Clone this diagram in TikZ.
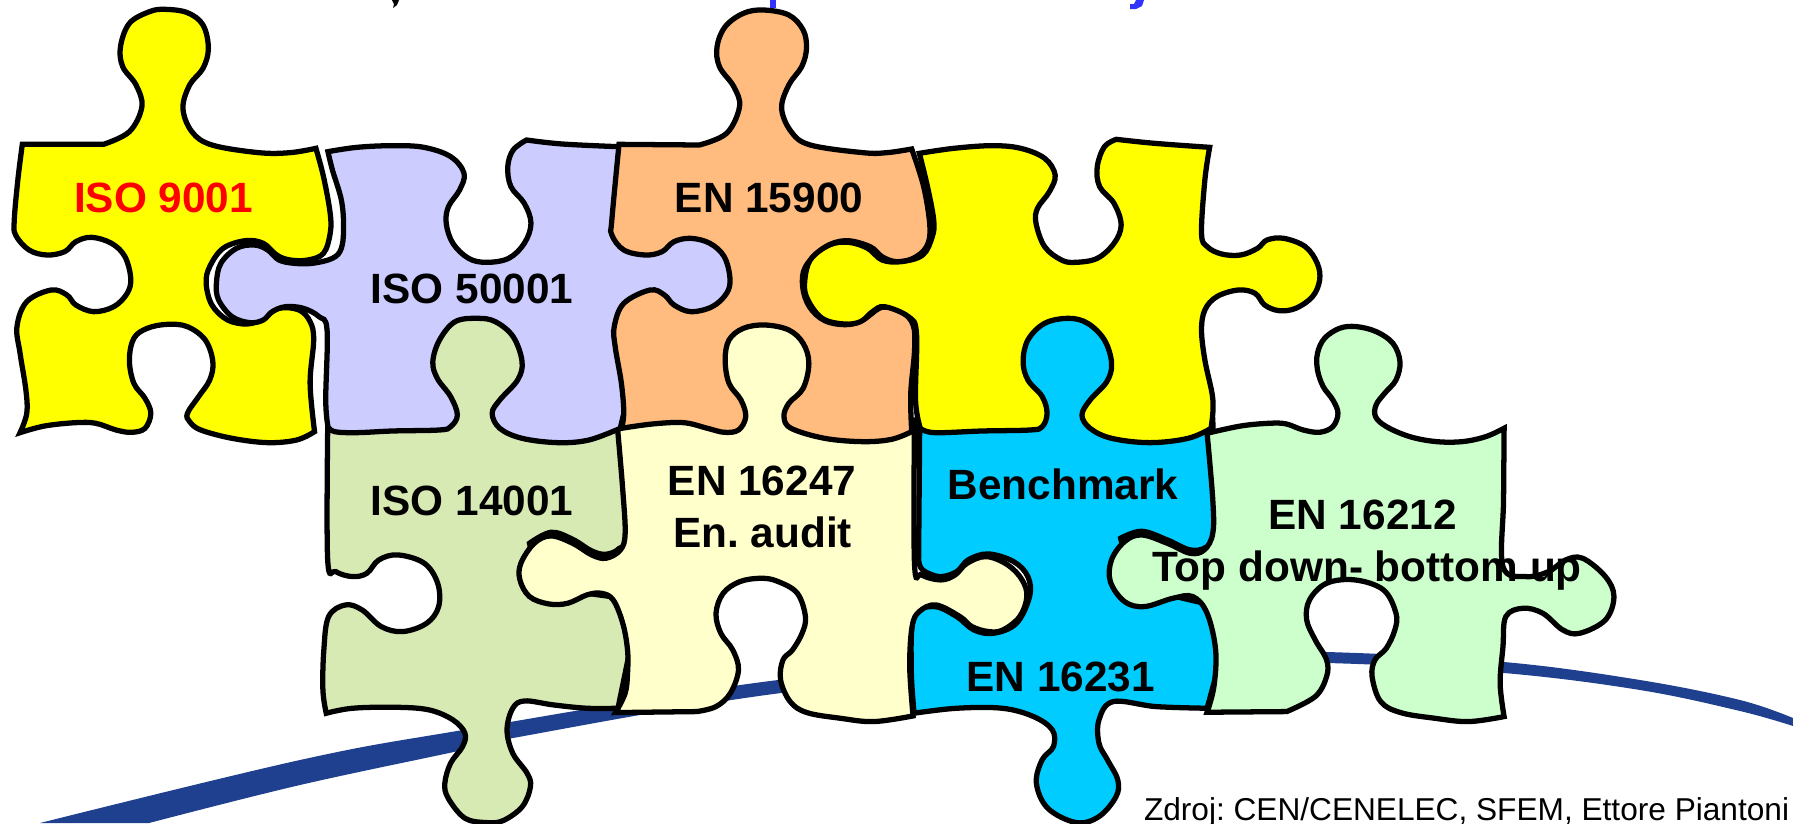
\documentclass[tikz,border=0pt]{standalone}
\usepackage{fontspec}
\setmainfont{Liberation Sans}
\frenchspacing
\definecolor{cyellow}{HTML}{FFFF00}
\definecolor{clilac}{HTML}{CCCCFF}
\definecolor{corange}{HTML}{FFBC7E}
\definecolor{cgreen}{HTML}{D8EAB4}
\definecolor{ccream}{HTML}{FFFFCC}
\definecolor{cblue}{HTML}{00CCFF}
\definecolor{cmint}{HTML}{CCFFCC}
\definecolor{cswoosh}{HTML}{1F3F8F}
\definecolor{ctitle}{HTML}{3333FF}
\tikzset{
  pz/.style={smooth,tension=0.6},
  piece/.style={draw=black,line width=3pt,miter limit=4},
  zone one/.style={x=0.00892857cm,y=-0.00666667cm},
  zone two/.style={xshift=12cm,x=0.00956633cm,y=-0.00666667cm},
  zone three/.style={xshift=6cm,yshift=-8cm,x=0.00956633cm,y=-0.00666667cm},
  zone four/.style={xshift=18cm,yshift=-8cm,x=0.01139031cm,y=-0.00666667cm},
  lbl/.style={font=\fontsize{24.1}{29}\selectfont\bfseries,anchor=base,inner sep=0pt},
  src/.style={font=\fontsize{18}{22}\selectfont,anchor=base west,inner sep=0pt}
}
\begin{document}
\begin{tikzpicture}[x=0.02cm,y=-0.02cm]
\useasboundingbox (0,0) rectangle (1793,823);
\clip (0,0) rectangle (1793,823);

% clipped remnants of the heading
\fill[black] (392,0) -- (399,0) -- (397,5) -- (393,8) -- (394,4) -- cycle;
\fill[ctitle] (770,0) rectangle (776,8);
\fill[ctitle] (1136,0) -- (1144,0) -- (1142,6) -- (1136,9) -- (1130,9) -- (1130,4) -- (1134,4) -- cycle;

% swoosh
\fill[cswoosh] plot[pz] coordinates {(40,823) (300,760) (463,730) (778,680) (1100,650) (1327,652) (1504,662) (1640,680) (1740,700) (1793,718)}
  -- plot[pz] coordinates {(1793,726) (1740,711) (1640,690) (1504,673) (1327,663) (1100,662) (781,693) (513,738) (463,750) (300,785) (149,823)} -- cycle;

% blue EN 16231
\begin{scope}[zone four]
\draw[piece,fill=cblue] (35,60) -- (200,60) -- (200,-260) -- (390,-260) -- (390,60) -- (550,60)
  -- plot[pz] coordinates {(550,60) (553,400) (538,442) (510,450) (470,420) (425,394) (388,415)}
  -- (410,560) -- (560,620) -- (560,800) -- (540,925)
  -- plot[pz] coordinates {(540,925) (450,920) (375,905) (350,960) (350,1030) (365,1080) (383,1140) (380,1190) (350,1250) (310,1268) (260,1225) (240,1150) (250,1080) (270,1040) (268,990) (235,950) (180,925) (100,925) (25,940)}
  -- plot[pz] coordinates {(25,940) (20,800) (25,650) (60,620) (100,650) (130,690) (165,700) (205,670) (228,590) (225,530) (200,485) (155,462) (120,480) (100,515) (70,530) (40,510) (33,480)} -- cycle;
% mint EN 16212
\draw[piece,fill=cmint] plot[pz] coordinates {(540,100) (600,78) (650,70) (679,72) (708.5,90) (738,97) (761,80) (770,40) (761,0) (744,-40) (734,-90) (734,-140) (746.5,-185) (773,-215) (802,-220) (837,-205) (866.5,-170) (879,-115) (872,-60) (852,-20) (837,15) (836,50) (855,80) (896,110) (942.5,125) (989,125) (1030,110) (1062,85)}
  -- (1062,85) -- plot[pz] coordinates {(1062,85) (1061,300) (1060,500) (1100,530) (1140,515) (1170,480) (1200,475) (1240,530) (1255,590) (1240,660) (1195,700) (1165,690) (1130,640) (1095,625) (1065,650) (1060,740) (1055,850) (1062,950)}
  -- plot[pz] coordinates {(1062,950) (1000,965) (940,955) (880,938) (845,905) (830,830) (835,780) (855,745) (870,690) (872,640) (850,570) (800,540) (750,550) (720,600) (715,660) (730,720) (750,780) (750,830) (730,890) (680,935)}
  -- (540,937) -- plot[pz] coordinates {(540,937) (552,860) (555,750) (540,640) (515,590) (480,595) (430,620) (395,605) (370,545) (372,480) (395,425) (425,405) (470,430) (510,460) (535,450) (550,400) (550,300) (540,100)} -- cycle;
\end{scope}

\begin{scope}[zone three]
% green ISO 14001
\draw[piece,fill=cgreen] (58,80) -- (270,80) -- (270,-260) -- (470,-260) -- (470,80) -- (670,80)
  -- plot[pz] coordinates {(670,80) (682,400) (668,445) (640,463) (610,453) (570,418) (525,397) (480,430)}
  -- (500,560) -- (700,600) -- (690,750) -- (665,925)
  -- plot[pz] coordinates {(665,925) (600,925) (530,915) (470,903) (445,925) (433,990) (445,1060) (475,1120) (482,1160) (465,1220) (425,1262) (390,1268) (345,1255) (310,1195) (303,1150) (315,1090) (340,1040) (345,1000) (320,960) (270,930) (200,922) (110,925) (55,940)}
  -- plot[pz] coordinates {(55,940) (48,870) (50,750) (60,650) (95,615) (130,630) (170,680) (215,695) (265,670) (290,620) (288,550) (260,490) (205,465) (165,480) (140,520) (110,530) (75,515) (58,480) (58,90)} -- cycle;
% cream EN 16247
\draw[piece,fill=ccream] (665,60) -- (880,60) -- (880,-240) -- (1070,-240) -- (1070,60) -- (1285,60)
  -- plot[pz] coordinates {(1285,60) (1285,490) (1300,525) (1340,540) (1370,525) (1395,490) (1435,470) (1480,495) (1510,540) (1520,590) (1505,650) (1470,690) (1440,695) (1405,680) (1380,650) (1330,615) (1295,635) (1280,680) (1275,800) (1282,948)}
  -- plot[pz] coordinates {(1282,948) (1200,965) (1130,955) (1060,938) (1025,905) (1005,840) (1010,780) (1030,750) (1050,700) (1057,650) (1040,580) (1000,545) (965,535) (920,545) (885,580) (870,640) (880,700) (905,750) (917,810) (900,880) (870,920) (830,935)}
  -- (660,938) -- plot[pz] coordinates {(660,938) (680,880) (685,820) (685,750) (675,670) (655,600) (630,580) (600,585) (560,610) (520,612) (480,590) (460,540) (462,490) (490,430) (525,408) (570,430) (610,465) (640,475) (670,450) (680,400) (675,270) (665,100)} -- cycle;
\end{scope}

\begin{scope}[zone one]
% yellow ISO 9001
\draw[piece,fill=cyellow] (50,433) -- plot[pz] coordinates {(232,433) (290,395) (318,320) (305,255) (275,200) (270,140) (290,70) (335,35) (370,28) (420,38) (455,75) (467,145) (455,205) (425,255) (410,325) (430,395) (475,435) (580,458) (650,458) (708,445)}
  -- plot[pz] coordinates {(708,445) (725,530) (740,640) (740,700) (725,760) (690,780) (650,780) (620,765) (590,730) (550,722) (500,745) (470,800) (462,850) (475,915) (510,960) (555,972) (590,955) (625,925) (670,930) (695,965) (703,1020) (695,1150) (705,1295)}
  -- plot[pz] coordinates {(705,1295) (665,1320) (600,1328) (520,1315) (450,1290) (425,1265) (420,1240) (445,1190) (470,1140) (477,1085) (460,1020) (420,980) (375,973) (330,985) (300,1015) (290,1080) (300,1150) (325,1195) (338,1240) (325,1285) (295,1297) (260,1290) (215,1270) (170,1268) (100,1278) (45,1298)}
  -- plot[pz] coordinates {(45,1298) (60,1240) (58,1170) (45,1060) (38,980) (60,905) (115,870) (150,885) (170,915) (210,935) (255,920) (285,880) (293,835) (280,770) (250,730) (205,712) (170,725) (145,755) (105,765) (65,750) (35,705) (32,660) (40,540) (50,433)} -- cycle;
% lilac ISO 50001
\draw[piece,fill=clilac] plot[pz] coordinates {(735,455) (800,442) (880,437) (950,442) (1010,470) (1040,520) (1030,570) (1005,620) (1000,670) (1015,730) (1050,775) (1090,787) (1140,775) (1175,730) (1190,670) (1175,610) (1145,560) (1138,500) (1150,450) (1180,420)}
  -- plot[pz] coordinates {(1180,420) (1260,432) (1385,440)}
  -- (1450,700) -- (1670,700) -- (1670,950) -- (1450,950) -- (1390,1285)
  -- plot[pz] coordinates {(1390,1285) (1320,1320) (1250,1328) (1170,1315) (1120,1285) (1103,1240) (1120,1200) (1160,1140) (1170,1085) (1150,1010) (1110,965) (1070,955) (1020,965) (985,1020) (970,1085) (980,1135) (1010,1190) (1025,1245) (1010,1280) (985,1290) (880,1293) (800,1298) (750,1295) (735,1280)}
  -- plot[pz] coordinates {(735,1280) (730,1200) (733,990) (715,950) (680,925) (640,920) (610,935) (590,960) (560,968) (520,950) (490,900) (485,850) (495,790) (530,745) (570,735) (600,750) (625,780) (660,790) (700,790) (745,775) (765,745) (770,680) (765,600) (745,510) (735,455)} -- cycle;
\end{scope}

\begin{scope}[zone two]
% orange EN 15900
\draw[piece,fill=corange] (40,433) -- plot[pz] coordinates {(208,435) (265,400) (292,320) (280,260) (250,200) (245,140) (262,80) (300,40) (342,30) (395,45) (425,90) (432,145) (422,200) (395,255) (380,325) (400,395) (440,435) (550,458) (600,458) (652,447)}
  -- plot[pz] coordinates {(652,447) (677,560) (690,680) (683,740) (655,775) (620,785) (590,770) (565,740) (515,722) (470,742) (430,800) (424,860) (438,920) (470,962) (515,974) (550,960) (590,922) (630,935) (655,975) (658,1050) (650,1180) (652,1295)}
  -- plot[pz] coordinates {(652,1295) (610,1318) (550,1325) (470,1315) (400,1285) (385,1250) (395,1210) (425,1165) (437,1090) (425,1030) (395,990) (345,975) (300,985) (270,1020) (262,1080) (270,1150) (295,1200) (305,1250) (290,1290) (260,1297) (225,1285) (175,1268) (110,1272) (45,1285)}
  -- plot[pz] coordinates {(45,1285) (50,1240) (45,1150) (32,1040) (30,980) (50,910) (105,870) (135,885) (155,915) (190,935) (235,920) (265,880) (272,835) (260,770) (230,730) (190,715) (155,725) (130,755) (95,765) (50,750) (25,705) (25,660) (40,433)} -- cycle;
% yellow piece without label
\draw[piece,fill=cyellow] plot[pz] coordinates {(668,460) (740,445) (820,437) (880,445) (930,475) (952,525) (940,575) (915,625) (912,670) (930,740) (965,780) (995,787) (1040,775) (1075,730) (1090,675) (1075,610) (1045,560) (1040,500) (1055,440) (1080,418)}
  -- plot[pz] coordinates {(1080,418) (1160,430) (1275,442)}
  -- plot[pz] coordinates {(1275,442) (1265,540) (1258,700) (1270,740) (1300,762) (1340,765) (1375,745) (1395,720) (1430,715) (1475,740) (1500,790) (1505,840) (1490,890) (1455,925) (1420,932) (1390,915) (1370,880) (1335,870) (1290,890) (1265,930) (1258,990) (1265,1080) (1280,1180) (1282,1230) (1278,1285)}
  -- plot[pz] coordinates {(1278,1285) (1230,1315) (1150,1328) (1070,1315) (1025,1285) (1008,1245) (1025,1200) (1060,1145) (1070,1090) (1055,1020) (1020,970) (980,955) (930,970) (895,1020) (885,1085) (895,1140) (925,1190) (935,1240) (925,1280) (900,1290) (800,1293) (700,1298) (670,1285)}
  -- plot[pz] coordinates {(670,1285) (660,1200) (662,1000) (645,950) (595,920) (570,935) (545,965) (510,972) (465,955) (435,900) (428,850) (440,780) (480,735) (520,727) (560,745) (590,780) (630,785) (675,765) (695,710) (698,660) (685,560) (668,460)} -- cycle;
\end{scope}

% labels
\node[lbl,text=red] (iso9001) at (163.5,212) {ISO 9001};
\node[lbl] (iso50001) at (472,303) {ISO 50001};
\node[lbl] (en15900) at (769,212) {EN 15900};
\node[lbl] (iso14001) at (472,515.5) {ISO 14001};
\node[lbl] (en16247) at (762,495) {EN 16247};
\node[lbl] (enaudit) at (762.7,547) {En. audit};
\node[lbl] (benchmark) at (1063,499) {Benchmark};
\node[lbl] (en16231) at (1060.8,691) {EN 16231};
\node[lbl] (en16212) at (1362.6,529) {EN 16212};
\node[lbl] (topdown) at (1367,581) {Top down- bottom up};
\node[src] (zdroj) at (1143.7,820) {Zdroj: CEN/CENELEC, SFEM, Ettore Piantoni};
\end{tikzpicture}
\end{document}
